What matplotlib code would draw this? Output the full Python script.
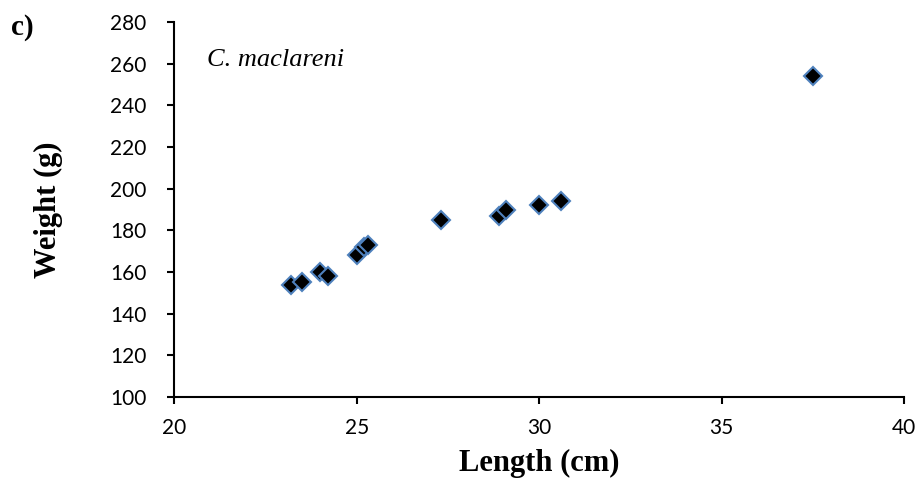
import matplotlib
matplotlib.use('Agg')
import matplotlib.pyplot as plt

# Length (cm) and weight (g) of C. maclareni specimens
length_cm = [23.2, 23.5, 24.0, 24.2, 25.0, 25.2, 25.3, 27.3, 28.9, 29.1, 30.0, 30.6, 37.5]
weight_g = [154, 155, 160, 158, 168, 172, 173, 185, 187, 190, 192, 194, 254]

x_ticks = [20, 25, 30, 35, 40]
y_ticks = [100, 120, 140, 160, 180, 200, 220, 240, 260, 280]

fig = plt.figure(figsize=(9.17, 4.92), dpi=100)
ax = fig.add_axes([0.19, 0.193, 0.796, 0.762])

ax.plot(length_cm, weight_g, linestyle='none', marker='D', markersize=9.5,
        markerfacecolor='black', markeredgecolor='#4F81BD', markeredgewidth=1.5)

ax.set_xlim(20, 40)
ax.set_ylim(100, 280)
ax.set_xticks(x_ticks)
ax.set_yticks(y_ticks)

for side in ['top', 'right']:
    ax.spines[side].set_visible(False)
for side in ['left', 'bottom']:
    ax.spines[side].set_linewidth(1.5)

ax.tick_params(direction='out', length=5, width=1.5, labelsize=15)
ax.tick_params(axis='y', pad=15)
ax.tick_params(axis='x', pad=10)
for lab in ax.get_xticklabels() + ax.get_yticklabels():
    lab.set_fontfamily('Lato')

ax.set_xlabel('Length (cm)', fontsize=22, fontweight='bold',
              fontfamily='Liberation Serif', va='center')
ax.xaxis.set_label_coords(0.5, -0.176)
ax.set_ylabel('Weight (g)', fontsize=22, fontweight='bold',
              fontfamily='Liberation Serif', va='center')
ax.yaxis.set_label_coords(-0.172, 0.5)

ax.text(0.045, 0.9, 'C. maclareni', transform=ax.transAxes, fontsize=19,
        fontstyle='italic', fontfamily='Liberation Serif', va='center')
fig.text(0.012, 0.945, 'c)', fontsize=21, fontweight='bold',
         fontfamily='Liberation Serif', va='center')

fig.savefig('out.png', dpi=100)
